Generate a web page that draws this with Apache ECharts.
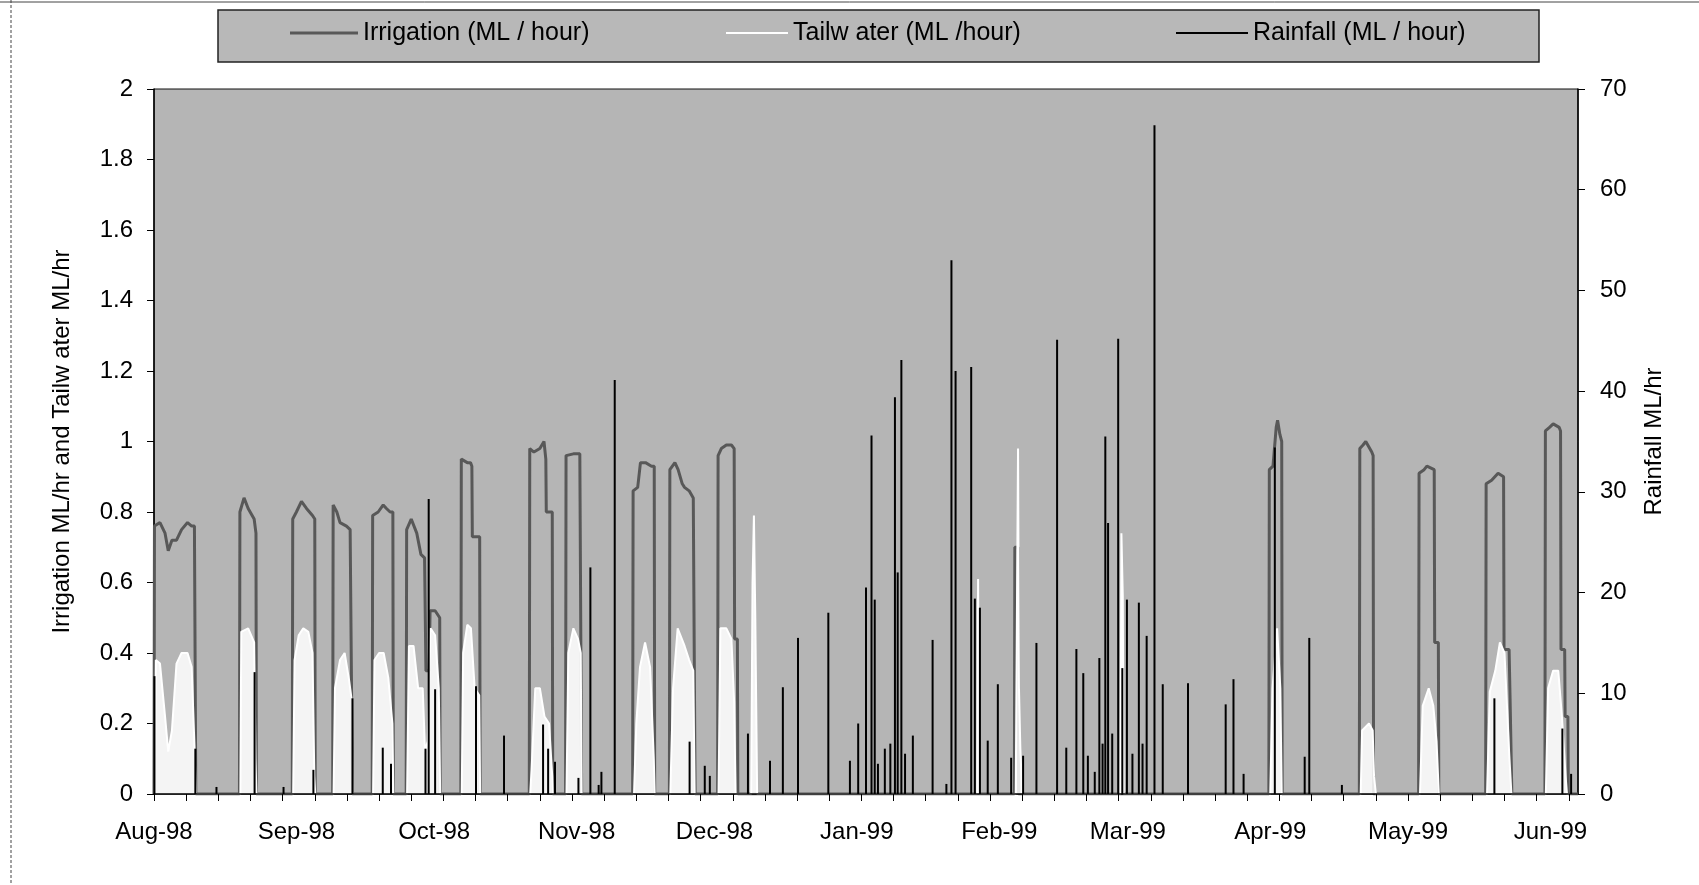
<!DOCTYPE html>
<html>
<head>
<meta charset="utf-8">
<title>Irrigation, tailwater and rainfall</title>
<script src="https://cdn.jsdelivr.net/npm/echarts@6.0.0/dist/echarts.min.js"></script>
<style>
  html, body { margin: 0; padding: 0; background: #fff; }
  #main { width: 1699px; height: 885px; }
</style>
</head>
<body>
<div id="main"></div>
<script>
// x values are days counted from 1 Aug 1998
var monthDays = [0, 31, 61, 92, 122, 153, 184, 212, 243, 273, 304];
var monthLabels = ['Aug-98', 'Sep-98', 'Oct-98', 'Nov-98', 'Dec-98', 'Jan-99',
                   'Feb-99', 'Mar-99', 'Apr-99', 'May-99', 'Jun-99'];
var weekTicks = [0, 7, 14, 21, 28, 35, 42, 49, 56, 63, 70, 77, 84, 91, 98, 105, 112, 119,
                 126, 133, 140, 147, 154, 161, 168, 175, 182, 189, 196, 203, 210, 217, 224,
                 231, 238, 245, 252, 259, 266, 273, 280, 287, 294, 301, 308];

// Irrigation (ML/hr), [day, value]
var irrigation = [
  [0, 0], [0.1, 0.76], [1.3, 0.77], [2.4, 0.74], [3.1, 0.69], [3.9, 0.72], [4.9, 0.72], [6, 0.75], [7.3, 0.77], [8.2, 0.76], [8.8, 0.76], [9.1, 0],
  [18.6, 0], [18.7, 0.80], [19.6, 0.84], [20.5, 0.81], [21.8, 0.78], [22.2, 0.74], [22.3, 0],
  [30.1, 0], [30.2, 0.78], [31, 0.80], [32.1, 0.83], [33.2, 0.81], [34.5, 0.79], [35, 0.78], [35.1, 0],
  [38.9, 0], [39, 0.82], [39.8, 0.80], [40.5, 0.77], [41.9, 0.76], [42.7, 0.75], [43.1, 0.75], [43.2, 0],
  [47.5, 0], [47.6, 0.79], [48.8, 0.80], [49.9, 0.82], [50.6, 0.81], [51.4, 0.80], [52, 0.80], [52.1, 0],
  [54.9, 0], [55, 0.75], [56, 0.78], [57.2, 0.74], [58.1, 0.68], [58.9, 0.67], [59.2, 0.35], [59.9, 0.35], [60.1, 0.52], [61.2, 0.52], [62.2, 0.50], [62.3, 0],
  [66.8, 0], [66.9, 0.95], [68.2, 0.94], [68.9, 0.94], [69.2, 0.93], [69.3, 0.73], [70.9, 0.73], [71, 0],
  [81.7, 0], [81.8, 0.98], [82.7, 0.97], [84, 0.98], [84.9, 1.0], [85.3, 0.95], [85.4, 0.80], [86.7, 0.80], [86.8, 0],
  [89.6, 0], [89.7, 0.96], [91.3, 0.965], [92.7, 0.965], [93, 0.96], [93.1, 0],
  [104.2, 0], [104.3, 0.86], [105.3, 0.87], [105.9, 0.94], [107, 0.94], [108.3, 0.93], [108.9, 0.93], [109, 0],
  [112.2, 0], [112.3, 0.92], [113.4, 0.94], [114.1, 0.92], [115, 0.88], [115.5, 0.87], [116.5, 0.86], [117.4, 0.84], [117.8, 0],
  [122.7, 0], [122.8, 0.96], [123.5, 0.98], [124.6, 0.99], [125.7, 0.99], [126.3, 0.98], [126.4, 0.44], [127, 0.44], [127.1, 0],
  [187.3, 0], [187.4, 0.70], [188.1, 0.70], [188.2, 0],
  [242.7, 0], [242.8, 0.92], [243.6, 0.93], [244.3, 1.04], [244.6, 1.06], [245.1, 1.02], [245.5, 1.0], [245.6, 0],
  [262.4, 0], [262.5, 0.98], [263.2, 0.99], [263.8, 1.0], [265.1, 0.97], [265.4, 0.96], [265.5, 0],
  [275.3, 0], [275.4, 0.91], [276.5, 0.92], [277.1, 0.93], [278.7, 0.92], [278.8, 0.43], [279.6, 0.43], [279.7, 0],
  [289.9, 0], [290, 0.88], [291.2, 0.89], [292.6, 0.91], [293.8, 0.90], [293.9, 0.41], [295, 0.41], [295.2, 0.28], [295.6, 0],
  [302.8, 0], [302.9, 1.03], [303.8, 1.04], [304.6, 1.05], [305.9, 1.04], [306.2, 1.03], [306.3, 0.41], [307.1, 0.41], [307.2, 0.22], [307.8, 0.22], [307.9, 0],
  [310, 0]
];

// Tailwater (ML/hr), [day, value]
var tailwater = [
  [0.2, 0], [0.4, 0.38], [1.3, 0.37], [2.4, 0.22], [3.1, 0.12], [3.9, 0.18], [4.9, 0.37], [6, 0.40], [7.3, 0.40], [8.2, 0.36], [8.8, 0.14], [9.1, 0],
  [18.8, 0], [19, 0.46], [20.5, 0.47], [21.8, 0.43], [22.1, 0.10], [22.3, 0],
  [30.3, 0], [30.6, 0.38], [31.5, 0.45], [32.5, 0.47], [33.6, 0.46], [34.5, 0.40], [34.9, 0.05], [35.1, 0],
  [39.1, 0], [39.4, 0.30], [40.5, 0.38], [41.5, 0.40], [42.5, 0.32], [43, 0.27], [43.2, 0],
  [47.7, 0], [48, 0.38], [49, 0.40], [50, 0.40], [51, 0.33], [51.9, 0.20], [52.1, 0],
  [55.1, 0], [55.5, 0.42], [56.5, 0.42], [57.5, 0.30], [58.5, 0.30], [59, 0.12], [59.6, 0.15], [60.2, 0.47], [61.2, 0.45], [62, 0.30], [62.3, 0],
  [67, 0], [67.3, 0.40], [68.2, 0.48], [69, 0.47], [69.8, 0.30], [70.8, 0.28], [71, 0],
  [81.9, 0], [82.2, 0.07], [83, 0.30], [84, 0.30], [85, 0.22], [86, 0.20], [86.7, 0.05], [86.8, 0],
  [89.8, 0], [90.2, 0.40], [91.3, 0.47], [92.3, 0.44], [92.9, 0.40], [93.1, 0],
  [104.5, 0], [105, 0.20], [105.8, 0.36], [106.9, 0.43], [108, 0.36], [108.8, 0.10], [109, 0],
  [112.4, 0], [113, 0.30], [114, 0.47], [115.5, 0.42], [116.5, 0.38], [117.4, 0.35], [117.7, 0],
  [122.9, 0], [123.3, 0.47], [124.6, 0.47], [125.7, 0.44], [126.3, 0.26], [126.6, 0],
  [130, 0], [130.3, 0.60], [130.6, 0.79], [130.9, 0.50], [131.3, 0],
  [179.2, 0], [179.4, 0.61], [179.6, 0],
  [187.6, 0], [187.9, 0.60], [188.1, 0.98], [188.3, 0.30], [188.6, 0.13], [189, 0],
  [210.4, 0], [210.6, 0.74], [210.9, 0.56], [211.1, 0],
  [243, 0], [243.5, 0.30], [244.5, 0.47], [245.2, 0.30], [245.5, 0],
  [262.7, 0], [263, 0.18], [264.5, 0.20], [265.3, 0.18], [265.6, 0.05], [266, 0],
  [275.6, 0], [276.2, 0.25], [277.5, 0.30], [278.5, 0.25], [279.2, 0.15], [279.7, 0],
  [290.2, 0], [290.8, 0.29], [292, 0.35], [293, 0.43], [294, 0.40], [295, 0.12], [295.5, 0],
  [303, 0], [303.5, 0.30], [304.6, 0.35], [305.7, 0.35], [306.5, 0.22], [307.3, 0.05], [307.6, 0],
  [310, 0]
];

// Rainfall (ML/hr, right axis), [day, value]
var rainfall = [
  [0.1, 11.7], [9.0, 4.5], [13.6, 0.7], [21.9, 12.1], [28.2, 0.7], [34.7, 2.4], [43.2, 9.5], [49.8, 4.6],
  [51.6, 3.0], [59.1, 4.5], [59.8, 29.3], [61.2, 10.4], [70.1, 10.7], [76.2, 5.8], [84.7, 6.9], [85.8, 4.5],
  [87.3, 3.2], [92.4, 1.6], [95.0, 22.5], [96.8, 0.9], [97.4, 2.2], [100.3, 41.1], [116.6, 5.2], [119.9, 2.8],
  [121.0, 1.8], [129.3, 6.0], [134.1, 3.3], [136.9, 10.6], [140.2, 15.5], [146.8, 18.0], [151.5, 3.3], [153.3, 7.0],
  [155.0, 20.5], [156.2, 35.6], [156.9, 19.3], [157.6, 3.0], [159.1, 4.5], [160.3, 5.0], [161.3, 39.4], [161.9, 22.0],
  [162.7, 43.1], [163.5, 4.0], [165.2, 5.8],
  [169.5, 15.3], [172.5, 1.0], [173.6, 53.0], [174.5, 42.0], [177.9, 42.4], [178.7, 19.4], [179.8, 18.5], [181.5, 5.3],
  [183.7, 10.9], [186.6, 3.6], [189.2, 3.8], [192.1, 15.0], [196.6, 45.1], [198.6, 4.6], [200.8, 14.4], [202.3, 12.0],
  [203.3, 3.8], [204.8, 2.2], [205.8, 13.5], [206.5, 5.0], [207.1, 35.5], [207.7, 26.9], [208.6, 6.0], [209.9, 45.2],
  [210.8, 12.5], [211.8, 19.3], [213.0, 4.0], [214.4, 19.0], [215.2, 5.0], [216.1, 15.7], [217.8, 66.4], [219.6, 10.9],
  [225.1, 11.0], [233.3, 8.9], [235.0, 11.4], [237.2, 2.0],
  [244.0, 34.4], [250.5, 3.7], [251.5, 15.5], [258.6, 0.9], [291.8, 9.5], [306.6, 6.5], [308.5, 2.0]
];

var FONT = '"Liberation Sans", Arial, sans-serif';

var myChart = echarts.init(document.getElementById('main'));

var legendText = { color: '#000', fontSize: 25, fontFamily: FONT, lineHeight: 26 };

var option = {
    animation: false,
    backgroundColor: '#fff',
    graphic: [
        // outer chart border (only the top and left edges show in the scan)
        { type: 'line', shape: { x1: 0, y1: 2, x2: 1699, y2: 2 }, style: { stroke: '#444', lineWidth: 1 } },
        { type: 'line', shape: { x1: 11, y1: 0, x2: 11, y2: 885 }, style: { stroke: '#444', lineWidth: 1, lineDash: [3, 2] } },
        // legend box
        { type: 'rect', z: 0, shape: { x: 218, y: 10, width: 1321, height: 52 },
          style: { fill: '#b8b8b8', stroke: '#222', lineWidth: 1.5 } }
    ],
    legend: [
        { data: [{ name: 'Irrigation (ML / hour)', icon: 'rect' }], left: 290, top: 20, padding: 0,
          itemWidth: 68, itemHeight: 3, selectedMode: false, textStyle: legendText },
        { data: [{ name: 'Tailw ater (ML /hour)', icon: 'rect' }], left: 726, top: 20, padding: 0,
          itemWidth: 62, itemHeight: 2, selectedMode: false, textStyle: legendText },
        { data: [{ name: 'Rainfall (ML / hour)', icon: 'rect' }], left: 1176, top: 20, padding: 0,
          itemWidth: 72, itemHeight: 2, selectedMode: false, textStyle: legendText }
    ],
    grid: {
        left: 154, right: 121, top: 89, bottom: 91,
        show: true, backgroundColor: '#b5b5b5', borderColor: '#111', borderWidth: 1
    },
    xAxis: {
        type: 'value', min: 0, max: 310, z: 5,
        axisLine: { lineStyle: { color: '#000', width: 1.5 } },
        axisTick: { customValues: weekTicks, length: 7, lineStyle: { color: '#000' } },
        axisLabel: {
            customValues: monthDays,
            margin: 26, color: '#000', fontSize: 24, fontFamily: FONT,
            formatter: function (v) {
                var i = monthDays.indexOf(v);
                return i >= 0 ? monthLabels[i] : '';
            }
        },
        splitLine: { show: false }
    },
    yAxis: [
        {
            type: 'value', min: 0, max: 2, interval: 0.2, position: 'left',
            name: 'Irrigation ML/hr and Tailw ater ML/hr', nameLocation: 'middle', nameGap: 80,
            nameTextStyle: { color: '#000', fontSize: 24, fontFamily: FONT },
            axisLine: { show: true, lineStyle: { color: '#000', width: 1.5 } },
            axisTick: { show: true, length: 7, lineStyle: { color: '#000' } },
            axisLabel: { margin: 21, color: '#000', fontSize: 24, fontFamily: FONT },
            splitLine: { show: false }
        },
        {
            type: 'value', min: 0, max: 70, interval: 10, position: 'right',
            name: 'Rainfall ML/hr', nameLocation: 'middle', nameGap: 64,
            nameTextStyle: { color: '#000', fontSize: 24, fontFamily: FONT },
            axisLine: { show: true, lineStyle: { color: '#000', width: 1.5 } },
            axisTick: { show: true, length: 7, lineStyle: { color: '#000' } },
            axisLabel: { margin: 22, color: '#000', fontSize: 24, fontFamily: FONT },
            splitLine: { show: false }
        }
    ],
    series: [
        {
            name: 'Irrigation (ML / hour)', type: 'line', data: irrigation, z: 2,
            symbol: 'none', showSymbol: false,
            lineStyle: { color: '#585858', width: 3 }, itemStyle: { color: '#585858' }
        },
        {
            name: 'Tailw ater (ML /hour)', type: 'line', data: tailwater, z: 3,
            symbol: 'none', showSymbol: false,
            lineStyle: { color: '#ffffff', width: 2 }, itemStyle: { color: '#ffffff' },
            areaStyle: { color: '#ffffff', opacity: 0.85 }
        },
        {
            name: 'Rainfall (ML / hour)', type: 'bar', yAxisIndex: 1, data: rainfall, z: 4,
            barWidth: 2, itemStyle: { color: '#000' }
        }
    ]
};

// 使用刚指定的配置项和数据显示图表。
myChart.setOption(option);
window.onresize = myChart.resize;
</script>
</body>
</html>
